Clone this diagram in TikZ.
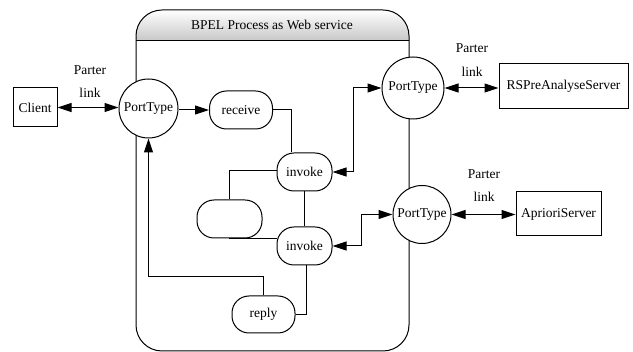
\documentclass[tikz,border=0pt]{standalone}
\usepackage{fontspec}
\setmainfont{Liberation Serif}
\usetikzlibrary{arrows.meta,calc}
\begin{document}
\begin{tikzpicture}[x=1pt,y=-1pt,
  every node/.style={font=\fontsize{13.5}{16}\selectfont},
  conn/.style={line width=1pt},
  arr/.style={conn,-{Triangle[length=14pt,width=9pt]}},
  darr/.style={conn,{Triangle[length=14pt,width=9pt]}-{Triangle[length=14pt,width=9pt]}},
  boxnode/.style={draw,line width=1pt,fill=white,inner sep=2pt},
  portnode/.style={draw,circle,line width=1pt,fill=white,inner sep=0pt},
  actnode/.style={draw,line width=1pt,fill=white,rounded corners=17pt,inner sep=0pt},
  lbl/.style={inner sep=0pt}]
\useasboundingbox (0,0) rectangle (633,352);
% container
\shade[top color=white,bottom color=black!22] (136,41) [rounded corners=26pt] -- (136,10) -- (409,10) [sharp corners] -- (409,41) -- cycle;
\draw[line width=1pt,rounded corners=26pt] (136,41) -- (136,10) -- (409,10) -- (409,41);
\draw[line width=1pt,rounded corners=26pt] (136,41) -- (136,351) -- (409,351) -- (409,41);
\draw[line width=1pt] (136,41) -- (409,41);
\node[lbl] (title) at (272,25) {BPEL Process as Web service};
% nodes
\node[boxnode,minimum width=44pt,minimum height=39pt] (client) at (35,107.5) {Client};
\node[portnode,minimum size=59pt] (pt1) at (148.5,108.5) {PortType};
\node[actnode,minimum width=63pt,minimum height=38pt] (recv) at (241,110) {receive};
\node[actnode,minimum width=55pt,minimum height=38pt] (inv1) at (304.5,172) {invoke};
\node[actnode,minimum width=65pt,minimum height=38pt] (empty) at (229.5,219) {};
\node[actnode,minimum width=55pt,minimum height=38pt] (inv2) at (304.5,246) {invoke};
\node[actnode,minimum width=63pt,minimum height=37pt] (reply) at (263.5,314.5) {reply};
\node[portnode,minimum size=62pt] (pt2) at (413,88) {PortType};
\node[boxnode,minimum width=129pt,minimum height=45pt] (rs) at (563.5,86.5) {RSPreAnalyseServer};
\node[portnode,minimum size=58pt] (pt3) at (422,214.5) {PortType};
\node[boxnode,minimum width=85pt,minimum height=44pt] (ap) at (558.5,214) {AprioriServer};
% labels
\node[lbl] (l1a) at (90,70) {Parter};
\node[lbl] (l1b) at (90,93) {link};
\node[lbl] (l2a) at (472,48) {Parter};
\node[lbl] (l2b) at (472,72) {link};
\node[lbl] (l3a) at (484,174) {Parter};
\node[lbl] (l3b) at (484,197) {link};
% connectors
\draw[darr] (client.east) -- (client.east -| pt1.west);
\draw[arr] (pt1.east |- recv.west) -- (recv.west);
\draw[conn] (recv.east) -| ([xshift=-13.5pt]inv1.north);
\draw[conn] ([yshift=1pt]inv1.west) -| (empty.north);
\draw[conn] (inv1.south) -- (inv2.north);
\draw[conn] (empty.south) |- ([yshift=7pt]inv2.west);
\draw[conn] ([xshift=1.5pt]inv2.south) |- (reply.east);
\draw[arr] (reply.north) -- ++(0,-19) -| (pt1.south);
\draw[darr] (inv1.east) -- ++(21,0) |- (pt2.west);
\draw[darr] (inv2.east) -- ++(29,0) |- (pt3.west);
\draw[darr] (pt2.east) -- (pt2.east -| rs.west);
\draw[darr] (pt3.east) -- (pt3.east -| ap.west);
\end{tikzpicture}
\end{document}
